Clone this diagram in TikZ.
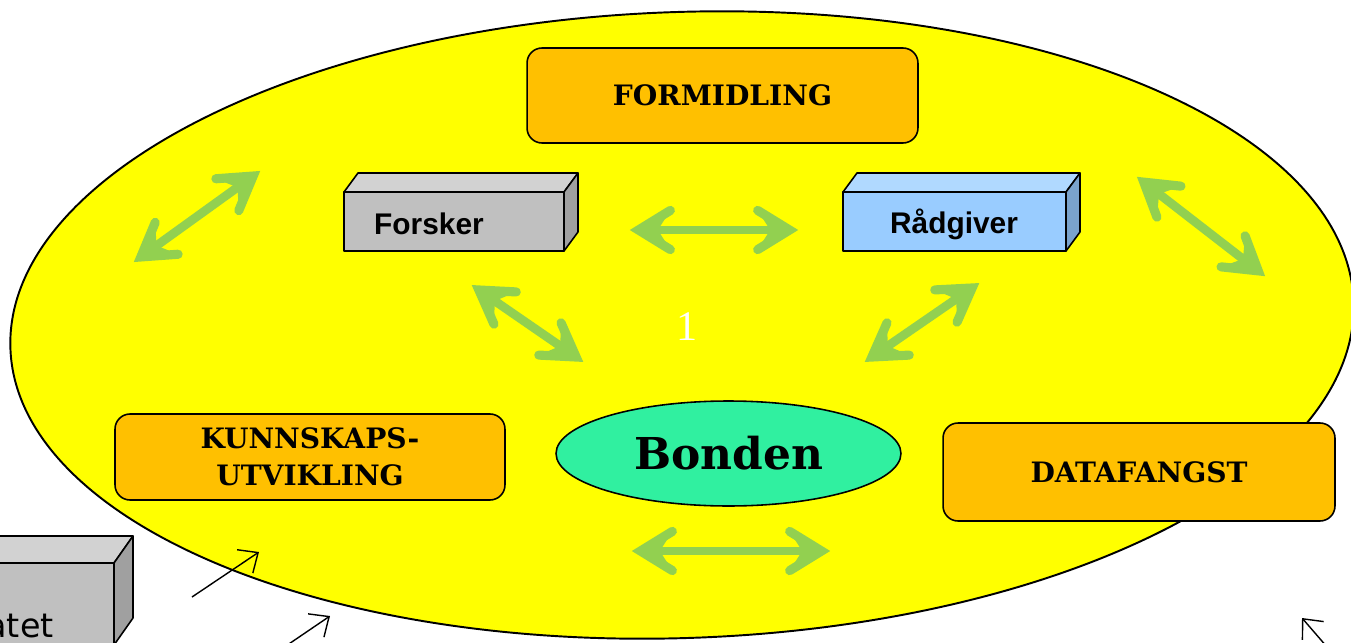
\documentclass[tikz,border=0pt]{standalone}
\usepackage{fontspec}
\usetikzlibrary{arrows.meta,shapes.geometric,calc}
\newfontfamily\slabfont{DejaVu Serif}
\newfontfamily\boxsans{Liberation Sans}
\newfontfamily\plainsans{DejaVu Sans}
\newfontfamily\numfont{Liberation Serif}
\definecolor{bgyellow}{HTML}{FFFF00}
\definecolor{boxorange}{HTML}{FFC000}
\definecolor{arrgreen}{HTML}{92D050}
\definecolor{bondgreen}{HTML}{30F0A0}
\definecolor{grayfront}{HTML}{C0C0C0}
\definecolor{graytop}{HTML}{D2D2D2}
\definecolor{grayside}{HTML}{A0A0A0}
\definecolor{bluefront}{HTML}{99CCFF}
\definecolor{bluetop}{HTML}{B0D9FF}
\definecolor{blueside}{HTML}{7AA3CC}
\tikzset{
  orangebox/.style={draw=black, line width=0.9pt, fill=boxorange, rounded corners=0.3cm,
    font=\slabfont\bfseries\fontsize{16}{21}\selectfont, align=center, inner sep=0pt},
  face/.style={draw=black, line width=0.9pt, line join=round},
  greenline/.style={draw=arrgreen, line width=5pt},
  greenhead/.style={draw=arrgreen, fill=arrgreen, line width=5.2pt, line cap=round, line join=miter},
  thinarrow/.style={draw=black, line width=0.8pt, -{Straight Barb[length=9pt,width=16pt]}},
}
\newcommand\dblgreen[2]{%
  \draw[greenline] ($(#1)!3pt!(#2)$) -- ($(#2)!3pt!(#1)$);
  \fill[arrgreen] ($(#1)!23pt!29:(#2)$) -- ($(#1)!2pt!(#2)$) -- ($(#1)!23pt!-29:(#2)$) -- ($(#1)!13pt!(#2)$) -- cycle;
  \fill[arrgreen] ($(#2)!23pt!29:(#1)$) -- ($(#2)!2pt!(#1)$) -- ($(#2)!23pt!-29:(#1)$) -- ($(#2)!13pt!(#1)$) -- cycle;
  \draw[greenhead, fill=none] ($(#1)!23pt!29:(#2)$) -- ($(#1)!2pt!(#2)$) -- ($(#1)!23pt!-29:(#2)$);
  \draw[greenhead, fill=none] ($(#2)!23pt!29:(#1)$) -- ($(#2)!2pt!(#1)$) -- ($(#2)!23pt!-29:(#1)$);
}
\begin{document}
\begin{tikzpicture}[x=0.02cm,y=-0.02cm]
\useasboundingbox (0,0) rectangle (1351,642);
\clip (0,0) rectangle (1351,642);
% big ellipse
\draw[fill=bgyellow, line width=1.1pt, rotate around={2:(682,325)}] (682,325) ellipse [x radius=672, y radius=313];
% boxes
\node[orangebox, minimum width=7.82cm, minimum height=1.9cm] (formidling) at (722.5,95.5) {FORMIDLING};
\node[orangebox, minimum width=7.8cm, minimum height=1.72cm] (kunnskap) at (310,457) {KUNNSKAPS-\\UTVIKLING};
\node[orangebox, minimum width=7.84cm, minimum height=1.96cm] (datafangst) at (1139,472) {DATAFANGST};
\node[ellipse, draw=black, line width=0.9pt, fill=bondgreen, minimum width=6.9cm, minimum height=2.1cm,
  font=\slabfont\bfseries\fontsize{25}{30}\selectfont] (bonden) at (728.5,453.5) {Bonden};
% Forsker 3D box
\fill[grayfront] (344,192) rectangle (564,251);
\filldraw[face, fill=graytop] (344,192) -- (358,173) -- (578,173) -- (564,192) -- cycle;
\filldraw[face, fill=grayside] (564,192) -- (578,173) -- (578,232) -- (564,251) -- cycle;
\draw[face] (344,192) rectangle (564,251);
\node[font=\boxsans\bfseries\fontsize{17}{20}\selectfont] (forsker) at (429,224) {Forsker};
% Radgiver 3D box
\fill[bluefront] (843,192) rectangle (1066,251);
\filldraw[face, fill=bluetop] (843,192) -- (857,173) -- (1080,173) -- (1066,192) -- cycle;
\filldraw[face, fill=blueside] (1066,192) -- (1080,173) -- (1080,232) -- (1066,251) -- cycle;
\draw[face] (843,192) rectangle (1066,251);
\node[font=\boxsans\bfseries\fontsize{17}{20}\selectfont] (radgiver) at (954,224) {Rådgiver};
% bottom-left 3D box
\fill[grayfront] (-120,563) rectangle (114,700);
\filldraw[face, fill=graytop] (-120,563) -- (-101,536) -- (133,536) -- (114,563) -- cycle;
\filldraw[face, fill=grayside] (114,563) -- (133,536) -- (133,618) -- (114,645) -- cycle;
\draw[face] (-120,700) -- (-120,563) -- (114,563) -- (114,700);
\node[font=\plainsans\fontsize{19}{22}\selectfont, anchor=base east, inner sep=0pt] (atet) at (54,637) {atet};
% label 1
\node[font=\numfont\fontsize{24}{28}\selectfont, text=white] (one) at (687,327) {1};
% green double arrows
\coordinate (g1a) at (138,259); \coordinate (g1b) at (256,174);
\coordinate (g2a) at (635,230); \coordinate (g2b) at (793,230);
\coordinate (g3a) at (1141,180); \coordinate (g3b) at (1261,273);
\coordinate (g4a) at (476,288); \coordinate (g4b) at (579,359);
\coordinate (g5a) at (975,286); \coordinate (g5b) at (869,359);
\coordinate (g6a) at (637,551); \coordinate (g6b) at (825,551);
\dblgreen{g1a}{g1b}
\dblgreen{g2a}{g2b}
\dblgreen{g3a}{g3b}
\dblgreen{g4a}{g4b}
\dblgreen{g5a}{g5b}
\dblgreen{g6a}{g6b}
% thin black arrows
\coordinate (t1a) at (192,597); \coordinate (t1b) at (259,552);
\coordinate (t2a) at (280,650); \coordinate (t2b) at (330,616);
\coordinate (t3a) at (1340,662); \coordinate (t3b) at (1302,618);
\draw[thinarrow] (t1a) -- (t1b);
\draw[thinarrow] (t2a) -- (t2b);
\draw[thinarrow] (t3a) -- (t3b);
\end{tikzpicture}
\end{document}
